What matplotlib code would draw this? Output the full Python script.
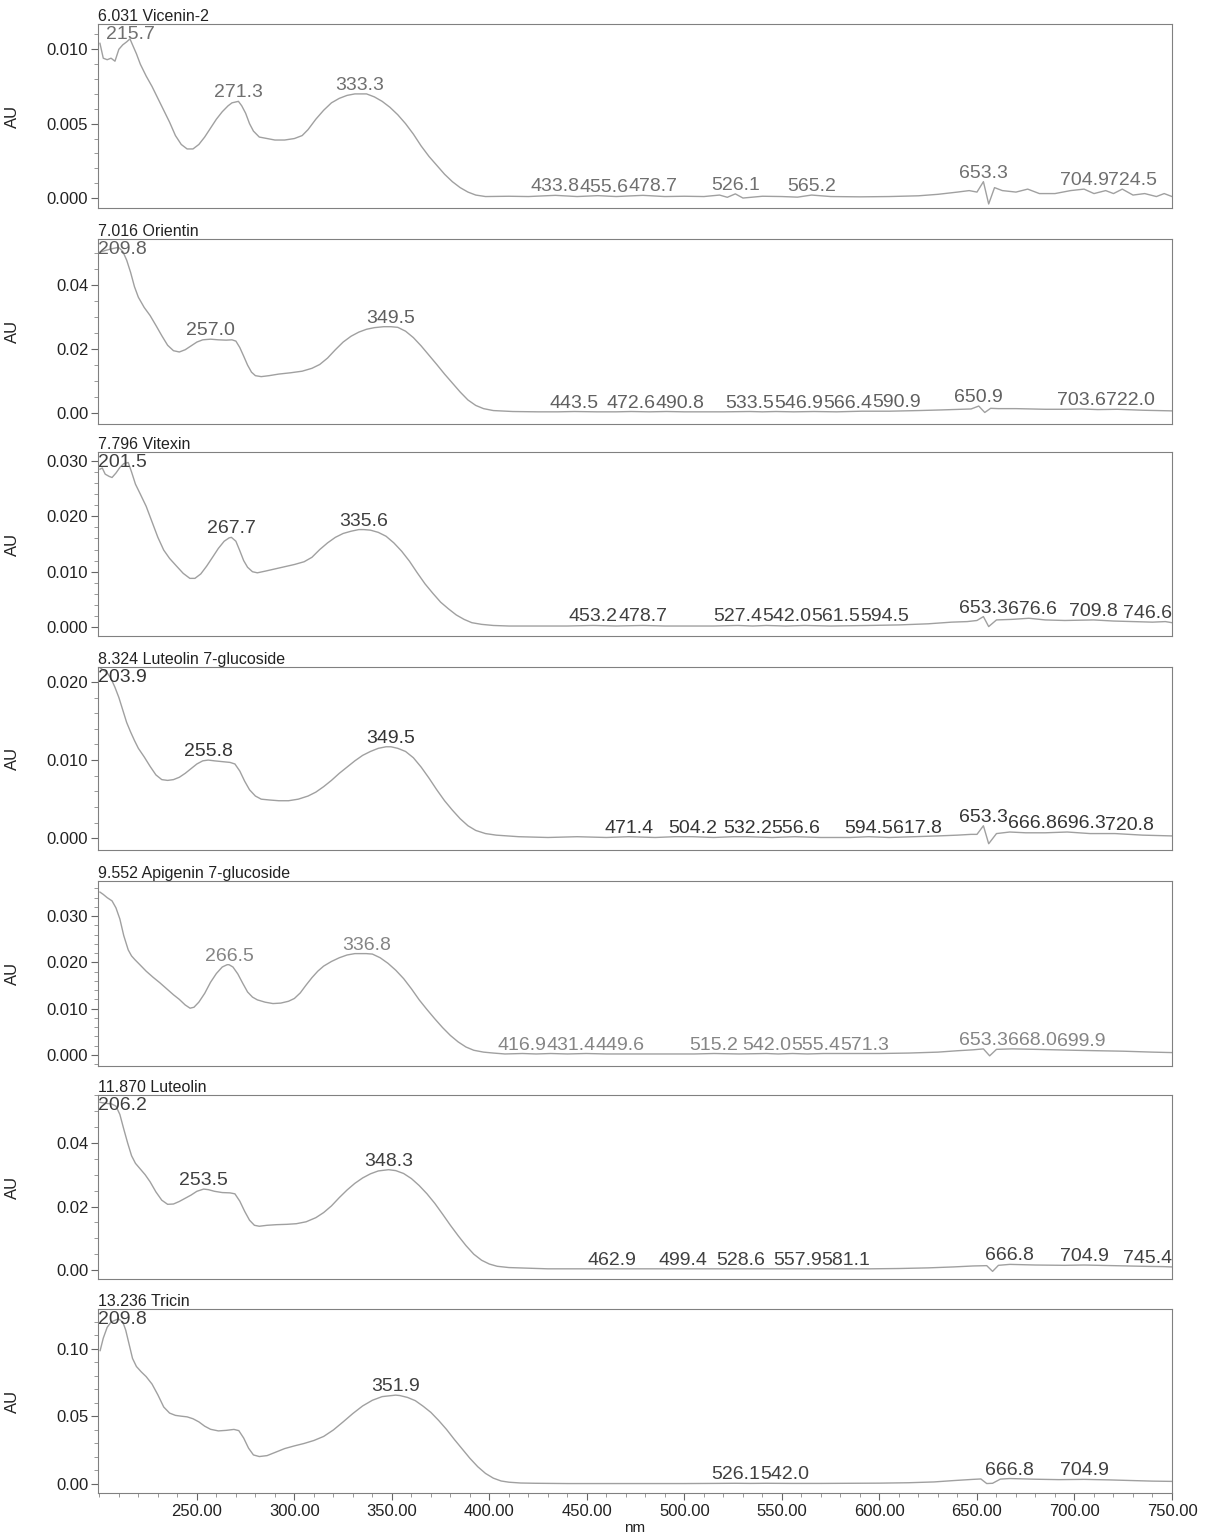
import numpy as np
import matplotlib
matplotlib.use("Agg")
import matplotlib.pyplot as plt
from matplotlib.ticker import MultipleLocator, FormatStrFormatter

plt.rcParams['font.family'] = ['Liberation Sans', 'DejaVu Sans']

# ---- spectra (nm, AU) ----
vicenin_wl = [200.3, 202, 204, 206, 208, 210, 212, 214, 215.7, 217, 219, 221, 224, 227, 230, 233, 236, 239,
              242, 245, 248, 251, 254, 257, 260, 263, 266, 268, 271.3, 273, 275, 277, 279, 282, 286, 290, 295,
              300, 304, 307, 311, 315, 319, 323, 327, 331, 333.3, 337, 341, 345, 349, 353, 357, 361, 365, 369,
              373, 377, 381, 385, 389, 393, 398,
              410, 420, 433.8, 445, 455.6, 465, 478.7, 490, 500, 510, 518, 522, 526.1, 530, 540, 550, 558,
              565.2, 575, 590, 605, 620, 630, 640, 646, 650, 653.3, 656, 659, 663, 670, 676, 682, 690, 698,
              704.9, 710, 716, 720, 724.5, 730, 736, 742, 746, 750]
vicenin_au = [0.0104, 0.0094, 0.0093, 0.0094, 0.0092, 0.0100, 0.0103, 0.0105, 0.0107, 0.0103, 0.0097, 0.0090,
              0.0082, 0.0075, 0.0067, 0.0059, 0.0051, 0.0042, 0.0036, 0.0033, 0.0033, 0.0036, 0.0041, 0.0047,
              0.0053, 0.0058, 0.0062, 0.0064, 0.0065, 0.0062, 0.0057, 0.0050, 0.0045, 0.0041, 0.0040, 0.0039,
              0.0039, 0.0040, 0.0042, 0.0046, 0.0053, 0.0059, 0.0064, 0.0067, 0.0069, 0.0070, 0.0070, 0.0070,
              0.0068, 0.0065, 0.0061, 0.0056, 0.0050, 0.0043, 0.0035, 0.0028, 0.0022, 0.0016, 0.0011, 0.0007,
              0.0004, 0.0002, 0.0001,
              0.00012, 0.0001, 0.00018, 0.0001, 0.00016, 0.0001, 0.00018, 0.0001, 0.00012, 0.0001, 0.0002,
              0.00005, 0.00028, 0.0, 0.00012, 0.0001, 0.00006, 0.0002, 0.0001, 0.00008, 0.0001, 0.00015,
              0.00025, 0.0004, 0.0005, 0.0004, 0.0011, -0.0004, 0.0007, 0.0005, 0.0004, 0.0006, 0.0003,
              0.0003, 0.0005, 0.0006, 0.0003, 0.0005, 0.0003, 0.0006, 0.0002, 0.0003, 0.0001, 0.0003, 0.0001]
vicenin_peaks = [215.7, 271.3, 333.3, 433.8, 455.6, 478.7, 526.1, 565.2, 653.3, 704.9, 724.5]

orientin_wl = [200.3, 203, 206, 209.8, 212, 214, 216, 218, 220, 223, 226, 229, 232, 235, 238, 241, 244, 247,
               250, 253, 257.0, 261, 265, 268, 270, 272, 274, 276, 278, 280, 283, 287, 292, 298, 304, 309, 313,
               317, 321, 325, 329, 333, 337, 341, 345.8, 349.5, 353, 357, 361, 365, 369, 373, 377, 381, 385,
               389, 393, 397, 402, 412, 425, 435, 443.5, 455, 465, 472.6, 482, 490.8, 500, 510, 520, 533.5, 540,
               546.9, 556, 566.4, 578, 590.9, 605, 620, 632, 642, 647, 650.9, 654, 657, 661, 670, 685, 695,
               703.6, 712, 722.0, 735, 750]
orientin_au = [0.0503, 0.0508, 0.0513, 0.0518, 0.0505, 0.0478, 0.0440, 0.0395, 0.0362, 0.0330, 0.0305, 0.0274,
               0.0242, 0.0212, 0.0195, 0.0191, 0.0198, 0.0210, 0.0222, 0.0229, 0.0231, 0.0229, 0.0228, 0.0229,
               0.0225, 0.0205, 0.0178, 0.0150, 0.0128, 0.0117, 0.0114, 0.0117, 0.0122, 0.0126, 0.0131, 0.0140,
               0.0152, 0.0172, 0.0198, 0.0222, 0.0240, 0.0253, 0.0262, 0.0267, 0.0270, 0.0270, 0.0268, 0.0256,
               0.0236, 0.0210, 0.0181, 0.0152, 0.0122, 0.0094, 0.0066, 0.0041, 0.0024, 0.0014, 0.0008, 0.0005,
               0.0004, 0.0004, 0.0005, 0.0004, 0.0004, 0.0005, 0.0004, 0.0005, 0.0004, 0.0004, 0.0004, 0.0005,
               0.0004, 0.0005, 0.0004, 0.0005, 0.0004, 0.0006, 0.0006, 0.0008, 0.0010, 0.0012, 0.0013, 0.0022,
               0.0002, 0.0015, 0.0014, 0.0014, 0.0012, 0.0012, 0.0013, 0.0011, 0.0012, 0.0009, 0.0007]
orientin_peaks = [209.8, 257.0, 349.5, 443.5, 472.6, 490.8, 533.5, 546.9, 566.4, 590.9, 650.9, 703.6, 722.0]

vitexin_wl = [200.3, 201.5, 203, 205, 206.5, 208.5, 210.5, 212.5, 214.8, 216.5, 218.5, 221, 224, 227, 230, 233,
              236, 239.6, 243, 246.4, 249, 252, 255, 258.4, 261, 264, 266.5, 267.7, 270, 272, 274, 276, 278.5,
              281, 285, 290, 295, 300, 305, 309, 313, 317, 321, 325, 329, 333, 335.6, 339, 343, 347, 351, 355,
              359, 363, 367, 371, 375, 379, 383, 387, 391, 396, 402, 410, 425, 440, 453.2, 465, 478.7, 490, 505,
              515, 527.4, 535, 542.0, 552, 561.5, 575, 594.5, 610, 625, 637, 645, 650, 653.3, 656, 660, 668,
              676.6, 685, 695, 709.8, 720, 730, 740, 746.6, 750]
vitexin_au = [0.0285, 0.0287, 0.0276, 0.0272, 0.0270, 0.0278, 0.0288, 0.0295, 0.0297, 0.0280, 0.0258, 0.0240,
              0.0218, 0.0190, 0.0162, 0.0139, 0.0124, 0.0110, 0.0097, 0.0088, 0.0088, 0.0096, 0.0110, 0.0128,
              0.0142, 0.0155, 0.0161, 0.0162, 0.0155, 0.0138, 0.0120, 0.0108, 0.0100, 0.0098, 0.0101, 0.0105,
              0.0109, 0.0113, 0.0118, 0.0126, 0.0140, 0.0152, 0.0162, 0.0169, 0.0173, 0.0176, 0.0176, 0.0175,
              0.0171, 0.0164, 0.0152, 0.0137, 0.0119, 0.0098, 0.0078, 0.0061, 0.0045, 0.0033, 0.0022, 0.0014,
              0.0008, 0.0005, 0.0003, 0.0002, 0.0002, 0.0002, 0.0003, 0.0002, 0.0003, 0.0002, 0.0002, 0.0002,
              0.0003, 0.0002, 0.0003, 0.0002, 0.0003, 0.0002, 0.0003, 0.0004, 0.0006, 0.0009, 0.0010, 0.0012,
              0.0019, 0.0001, 0.0013, 0.0014, 0.0016, 0.0013, 0.0012, 0.0013, 0.0011, 0.0010, 0.0009, 0.0010,
              0.0008]
vitexin_peaks = [201.5, 267.7, 335.6, 453.2, 478.7, 527.4, 542.0, 561.5, 594.5, 653.3, 676.6, 709.8, 746.6]

lut7g_wl = [200.3, 203.9, 206, 208, 210, 212, 214, 216, 218, 220, 223, 226, 229, 232, 235, 238, 241, 244, 247,
            250, 253, 255.8, 259, 263, 267, 269.5, 272, 274.5, 277, 280, 283, 287, 292, 297, 302, 307, 311, 315,
            319, 323, 327, 331, 335, 339, 343, 347, 349.5, 353, 357, 361, 365, 369, 373, 377, 381, 385, 389,
            393, 398, 403.5, 415, 430, 445, 460, 471.4, 485, 495, 504.2, 515, 525, 532.2, 545, 556.6, 570, 585,
            594.5, 605, 617.8, 630, 640, 647, 650, 653.3, 656, 660, 666.8, 675, 685, 696.3, 708, 720.8, 735, 750]
lut7g_au = [0.0218, 0.0212, 0.0204, 0.0193, 0.0180, 0.0164, 0.0148, 0.0136, 0.0125, 0.0115, 0.0104, 0.0092,
            0.0081, 0.0075, 0.0074, 0.0075, 0.0078, 0.0083, 0.0089, 0.0095, 0.0099, 0.0100, 0.0099, 0.0098,
            0.0097, 0.0095, 0.0086, 0.0073, 0.0062, 0.0054, 0.0050, 0.0049, 0.0048, 0.0048, 0.0050, 0.0054,
            0.0059, 0.0066, 0.0074, 0.0083, 0.0091, 0.0099, 0.0106, 0.0111, 0.0115, 0.0117, 0.0117, 0.0115,
            0.0111, 0.0103, 0.0091, 0.0077, 0.0062, 0.0048, 0.0036, 0.0025, 0.0016, 0.0010, 0.0006, 0.0004,
            0.0002, 0.0001, 0.0002, 0.0001, 0.0002, 0.0001, 0.0002, 0.0002, 0.0001, 0.0002, 0.0002, 0.0001,
            0.0002, 0.0001, 0.0001, 0.0002, 0.0001, 0.0002, 0.0003, 0.0004, 0.0005, 0.0005, 0.0016, -0.0007,
            0.0006, 0.0008, 0.0007, 0.0007, 0.0008, 0.0006, 0.0006, 0.0004, 0.0003]
lut7g_peaks = [203.9, 255.8, 349.5, 471.4, 504.2, 532.2, 556.6, 594.5, 617.8, 653.3, 666.8, 696.3, 720.8]

api7g_wl = [200.3, 202, 204, 206.5, 208.5, 210.5, 212.5, 214.8, 216.5, 218.2, 221, 224, 227.5, 231, 234.5, 238,
            241, 244, 246.5, 248.5, 251, 254, 257, 260, 263, 265.5, 266.5, 268.5, 271, 273.5, 276, 278.5, 281,
            285, 289, 293, 297, 300, 303, 306, 309, 312, 315, 319, 323, 327, 331, 336.8, 340, 344, 348, 352,
            356, 360, 364, 368, 372, 376, 380, 384, 388, 392, 397, 402, 408, 416.9, 424, 431.4, 440, 449.6,
            460, 475, 490, 505, 515.2, 528, 542.0, 548, 555.4, 563, 571.3, 585, 600, 615, 630, 640, 648, 653.3,
            656.5, 660, 668.0, 680, 690, 699.9, 712, 725, 740, 750]
api7g_au = [0.0352, 0.0347, 0.0340, 0.0333, 0.0318, 0.0294, 0.0258, 0.0227, 0.0214, 0.0206, 0.0194, 0.0181,
            0.0168, 0.0156, 0.0143, 0.0130, 0.0120, 0.0108, 0.0101, 0.0103, 0.0114, 0.0133, 0.0157, 0.0176,
            0.0190, 0.0195, 0.0195, 0.0190, 0.0175, 0.0155, 0.0136, 0.0125, 0.0119, 0.0114, 0.0111, 0.0112,
            0.0116, 0.0122, 0.0134, 0.0151, 0.0167, 0.0181, 0.0192, 0.0202, 0.0210, 0.0216, 0.0219, 0.0219,
            0.0218, 0.0210, 0.0198, 0.0183, 0.0165, 0.0143, 0.0119, 0.0098, 0.0078, 0.0059, 0.0042, 0.0028,
            0.0017, 0.0010, 0.0006, 0.0004, 0.0002, 0.0003, 0.0002, 0.0003, 0.0002, 0.0003, 0.0002, 0.0002,
            0.0002, 0.0002, 0.0003, 0.0002, 0.0003, 0.0002, 0.0003, 0.0002, 0.0003, 0.0003, 0.0003, 0.0004,
            0.0006, 0.0009, 0.0011, 0.0013, -0.0002, 0.0012, 0.0013, 0.0012, 0.0011, 0.0010, 0.0009, 0.0008,
            0.0006, 0.0005]
api7g_peaks = [266.5, 336.8, 416.9, 431.4, 449.6, 515.2, 542.0, 555.4, 571.3, 653.3, 668.0, 699.9]

luteolin_wl = [200.3, 203, 206.2, 208.5, 210.5, 212.5, 214.5, 216.5, 218.5, 221, 223.5, 226, 229, 232, 235, 238,
               241, 244, 247, 250, 253.5, 256, 259, 263, 267, 269.5, 272, 274.5, 277, 279.5, 282, 286, 291, 296,
               301, 306, 311, 315, 319, 323, 327, 331, 335, 339, 343, 348.3, 352, 356, 360, 364, 368, 372, 376,
               380, 384, 388, 392, 396, 400, 404, 410, 430, 445, 462.9, 480, 499.4, 515, 528.6, 545, 557.9, 570,
               581.1, 595, 610, 625, 638, 648, 655, 658, 661, 666.8, 680, 695, 704.9, 720, 735, 745.4, 750]
luteolin_au = [0.0528, 0.0525, 0.0523, 0.0516, 0.0490, 0.0444, 0.0400, 0.0360, 0.0336, 0.0318, 0.0300, 0.0278,
               0.0246, 0.0220, 0.0207, 0.0208, 0.0216, 0.0226, 0.0236, 0.0248, 0.0255, 0.0253, 0.0248, 0.0244,
               0.0243, 0.0240, 0.0217, 0.0185, 0.0157, 0.0141, 0.0138, 0.0141, 0.0143, 0.0144, 0.0146, 0.0152,
               0.0165, 0.0181, 0.0202, 0.0228, 0.0252, 0.0273, 0.0290, 0.0303, 0.0312, 0.0316, 0.0313, 0.0304,
               0.0288, 0.0266, 0.0240, 0.0210, 0.0176, 0.0141, 0.0108, 0.0077, 0.0050, 0.0031, 0.0019, 0.0012,
               0.0008, 0.0004, 0.0004, 0.0004, 0.0004, 0.0004, 0.0004, 0.0004, 0.0004, 0.0004, 0.0004, 0.0004,
               0.0004, 0.0005, 0.0007, 0.0010, 0.0013, 0.0014, -0.0004, 0.0015, 0.0018, 0.0016, 0.0015, 0.0016,
               0.0014, 0.0012, 0.0011, 0.0010]
luteolin_peaks = [206.2, 253.5, 348.3, 462.9, 499.4, 528.6, 557.9, 581.1, 666.8, 704.9, 745.4]

tricin_wl = [200.4, 202, 204, 206, 209.8, 212, 213.5, 215, 217, 219, 221.5, 224, 227, 230, 233, 236, 239, 242,
             245, 248, 251, 254, 257, 261, 265, 269, 271.5, 274, 276.5, 279, 282, 286, 290, 295, 300, 305, 310,
             315, 320, 325, 330, 335, 340, 345, 351.9, 354, 358, 362, 366, 370, 374, 378, 382, 386, 390, 394,
             398, 402, 406, 410, 416, 423.7, 440, 460, 480, 500, 515, 526.1, 534, 542.0, 555, 570, 585, 600,
             615, 628, 638, 648, 652, 655, 658, 662, 666.8, 680, 692, 704.9, 718, 730, 740, 750]
tricin_au = [0.0988, 0.1080, 0.1160, 0.1200, 0.1223, 0.1200, 0.1140, 0.1050, 0.0930, 0.0870, 0.0830, 0.0795,
             0.0740, 0.0660, 0.0570, 0.0525, 0.0508, 0.0502, 0.0497, 0.0483, 0.0460, 0.0428, 0.0405, 0.0393,
             0.0397, 0.0404, 0.0395, 0.0340, 0.0265, 0.0215, 0.0203, 0.0210, 0.0233, 0.0262, 0.0282, 0.0300,
             0.0322, 0.0352, 0.0400, 0.0460, 0.0522, 0.0578, 0.0620, 0.0647, 0.0658, 0.0655, 0.0641, 0.0617,
             0.0576, 0.0530, 0.0470, 0.0404, 0.0330, 0.0260, 0.0190, 0.0128, 0.0078, 0.0043, 0.0022, 0.0013,
             0.0007, 0.0005, 0.0003, 0.0003, 0.0003, 0.0003, 0.0004, 0.0005, 0.0004, 0.0005, 0.0004, 0.0004,
             0.0005, 0.0006, 0.0009, 0.0015, 0.0025, 0.0034, 0.0037, 0.0003, 0.0005, 0.0036, 0.0040, 0.0035,
             0.0032, 0.0034, 0.0030, 0.0025, 0.0021, 0.0019]
tricin_peaks = [209.8, 351.9, 526.1, 542.0, 666.8, 704.9]

titles = ["6.031 Vicenin-2", "7.016 Orientin", "7.796 Vitexin", "8.324 Luteolin 7-glucoside",
          "9.552 Apigenin 7-glucoside", "11.870 Luteolin", "13.236 Tricin"]
x_ticks = [250, 300, 350, 400, 450, 500, 550, 600, 650, 700, 750]

panels = [
    (vicenin_wl, vicenin_au, vicenin_peaks),
    (orientin_wl, orientin_au, orientin_peaks),
    (vitexin_wl, vitexin_au, vitexin_peaks),
    (lut7g_wl, lut7g_au, lut7g_peaks),
    (api7g_wl, api7g_au, api7g_peaks),
    (luteolin_wl, luteolin_au, luteolin_peaks),
    (tricin_wl, tricin_au, tricin_peaks),
]

# axis settings per panel: ylim, major step, minor step, format
yset = [((-0.00067, 0.0117), 0.005, 0.001, '%.3f'),
        ((-0.0034, 0.0544), 0.02, 0.005, '%.2f'),
        ((-0.0016, 0.0316), 0.010, 0.002, '%.3f'),
        ((-0.0015, 0.0219), 0.010, 0.002, '%.3f'),
        ((-0.0024, 0.0376), 0.010, 0.002, '%.3f'),
        ((-0.0028, 0.0551), 0.02, 0.005, '%.2f'),
        ((-0.0067, 0.1296), 0.05, 0.01, '%.2f')]
label_colors = ['#707070', '#606060', '#404040', '#353535', '#858585', '#404040', '#404040']

W, H = 1208, 1539
tops = [24, 239, 452, 667, 881, 1095, 1309]
bots = [208, 424, 636, 850, 1066, 1279, 1493]
left_px, right_px = 98, 1172

fig = plt.figure(figsize=(W / 100, H / 100), dpi=100)
axes = []
all_labels = []
for i, (wl, au, peaks) in enumerate(panels):
    ax = fig.add_axes([left_px / W, 1 - bots[i] / H, (right_px - left_px) / W, (bots[i] - tops[i]) / H])
    axes.append(ax)
    ax.plot(wl, au, color='#a0a0a0', lw=1.0, solid_joinstyle='round')
    ax.set_xlim(199.3, 750)
    ylim, major, minor, fmt = yset[i]
    ax.set_ylim(*ylim)
    ax.yaxis.set_major_locator(MultipleLocator(major))
    ax.yaxis.set_minor_locator(MultipleLocator(minor))
    ax.yaxis.set_major_formatter(FormatStrFormatter(fmt))
    ax.tick_params(axis='y', which='major', direction='out', length=5, width=0.8, color='#666666',
                   labelsize=12, labelcolor='#222222', pad=2)
    ax.tick_params(axis='y', which='minor', direction='out', length=3, width=0.6, color='#888888')
    for s in ax.spines.values():
        s.set_color('#808080')
        s.set_linewidth(0.8)
    ax.set_ylabel('AU', fontsize=12, color='#222222')
    ax.yaxis.set_label_coords(-0.073, 0.5)
    ax.set_title(titles[i], loc='left', fontsize=11.5, color='#222222', pad=1.5)

    if i == len(panels) - 1:
        ax.set_xticks(x_ticks)
        ax.xaxis.set_minor_locator(MultipleLocator(10))
        ax.xaxis.set_major_formatter(FormatStrFormatter('%.2f'))
        ax.tick_params(axis='x', which='major', direction='out', length=5, width=0.8, color='#666666',
                       labelsize=12, labelcolor='#222222', pad=3)
        ax.tick_params(axis='x', which='minor', direction='out', length=3, width=0.6, color='#888888')
        ax.set_xlabel('nm', fontsize=11, color='#222222', labelpad=1)
    else:
        ax.set_xticks([])

    texts = []
    for p in peaks:
        yv = np.interp(p, wl, au)
        t = ax.text(p, yv, '%.1f' % p, ha='center', va='bottom',
                    fontsize=14, color=label_colors[i])
        texts.append(t)
    all_labels.append(texts)

# keep peak labels from overlapping each other and inside the plot box
fig.canvas.draw()
renderer = fig.canvas.get_renderer()
for ax, texts in zip(axes, all_labels):
    box = ax.get_window_extent(renderer)
    prev_right = -1e9
    for t in texts:
        bb = t.get_window_extent(renderer)
        dx = max(0.0, prev_right - bb.x0)
        if bb.x0 + dx < box.x0:
            dx = box.x0 - bb.x0
        if bb.x1 + dx > box.x1:
            dx = box.x1 - bb.x1
        dy = min(0.0, box.y1 - 2 - bb.y1)
        if dx != 0 or dy != 0:
            disp = ax.transData.transform(t.get_position())
            t.set_position(ax.transData.inverted().transform((disp[0] + dx, disp[1] + dy)))
        prev_right = bb.x1 + dx

fig.savefig('out.png', dpi=100)
